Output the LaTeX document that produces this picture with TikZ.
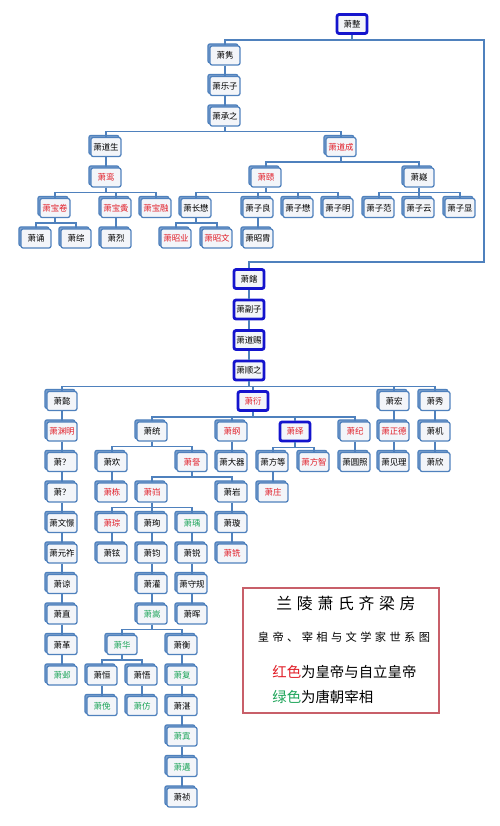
\documentclass[tikz,border=0pt]{standalone}
\usepackage{fontspec}
\usepackage{tikz}
\usetikzlibrary{shadows}
\newfontfamily\cjk{Noto Sans CJK SC}
\newfontfamily\cjkwide[LetterSpace=30]{Noto Sans CJK SC}
\definecolor{boxblue}{RGB}{79,129,189}
\definecolor{boxfill}{RGB}{243,245,249}
\definecolor{hlblue}{RGB}{20,20,205}
\definecolor{empred}{RGB}{225,30,40}
\definecolor{csgreen}{RGB}{30,165,90}
\definecolor{legred}{RGB}{200,95,105}

\begin{document}
\begin{tikzpicture}[x=0.02cm, y=-0.02cm,
  plain/.style={fill=boxfill, rounded corners=1.2pt,
    minimum width=0.6cm, minimum height=0.38cm, inner sep=1pt,
    font=\cjk\fontsize{4.8}{5}\selectfont},
  person/.style={plain, draw=boxblue, line width=0.7pt,
    copy shadow={shadow xshift=-1.2pt, shadow yshift=1.2pt, draw=boxblue, fill=boxblue!75}},
  emp/.style={person, text=empred},
  cs/.style={person, text=csgreen},
  main/.style={plain, draw=hlblue, line width=1.6pt},
  link/.style={draw=boxblue, line width=0.9pt}]
\fill[white] (0,0) rectangle (500,826);
\useasboundingbox (0,0) rectangle (500,826);

% Qi line
\node[main] (zheng) at (352,24) {萧整};
\node[person] (jun) at (225,55.5) {萧隽};
\node[person] (lezi) at (225,86) {萧乐子};
\node[person] (chengzhi) at (225,116.5) {萧承之};
\node[person] (daosheng) at (106,147) {萧道生};
\node[emp] (daocheng) at (341,147) {萧道成};
\node[emp] (luan) at (106,177.5) {萧鸾};
\node[emp] (ze) at (266,177.5) {萧赜};
\node[person] (yi) at (419,177.5) {萧嶷};
\node[emp] (baojuan) at (55,208) {萧宝卷};
\node[emp] (baoyin) at (116,208) {萧宝夤};
\node[emp] (baorong) at (156,208) {萧宝融};
\node[person] (changmao) at (196,208) {萧长懋};
\node[person] (ziliang) at (258,208) {萧子良};
\node[person] (zimao) at (298,208) {萧子懋};
\node[person] (ziming) at (338,208) {萧子明};
\node[person] (zifan) at (379,208) {萧子范};
\node[person] (ziyun) at (419,208) {萧子云};
\node[person] (zixian) at (460,208) {萧子显};
\node[person] (song) at (36,238.5) {萧诵};
\node[person] (zong) at (76,238.5) {萧综};
\node[person] (lie) at (116,238.5) {萧烈};
\node[emp] (zhaoye) at (176,238.5) {萧昭业};
\node[emp] (zhaowen) at (217,238.5) {萧昭文};
\node[person] (zhaozhou) at (258,238.5) {萧昭胄};

% Liang line
\coordinate (loop) at (484,262);
\node[main] (xia) at (249,279) {萧鎋};
\node[main] (fuzi) at (249,309.5) {萧副子};
\node[main] (daoci) at (249,340) {萧道赐};
\node[main] (shunzhi) at (249,370.5) {萧顺之};
\node[person] (yi2) at (62,401) {萧懿};
\node[main, text=empred] (yan) at (253,401) {萧衍};
\node[person] (hong) at (394,401) {萧宏};
\node[person] (xiu) at (435,401) {萧秀};

\node[emp] (yuanming) at (62,431.5) {萧渊明};
\node[person] (qa) at (62,462) {萧？};
\node[person] (qb) at (62,492.5) {萧？};
\node[person] (wenjing) at (62,523) {萧文憬};
\node[person] (yuanzuo) at (62,553.5) {萧元祚};
\node[person] (liang) at (62,584) {萧谅};
\node[person] (zhi2) at (62,614.5) {萧直};
\node[person] (ge) at (62,645) {萧革};
\node[cs] (ye) at (62,675.5) {萧邺};

\node[person] (tong) at (152,431.5) {萧统};
\node[emp] (gang) at (232,431.5) {萧纲};
\node[main, text=empred] (yi3) at (295,431.5) {萧绎};
\node[emp] (ji) at (355,431.5) {萧纪};
\node[emp] (zhengde) at (394,431.5) {萧正德};
\node[person] (jiji) at (435,431.5) {萧机};

\node[person] (huan) at (112,462) {萧欢};
\node[emp] (cha) at (192,462) {萧詧};
\node[person] (daqi) at (232,462) {萧大器};
\node[person] (fangdeng) at (273,462) {萧方等};
\node[emp] (fangzhi) at (314,462) {萧方智};
\node[person] (yuanzhao) at (355,462) {萧圆照};
\node[person] (jianli) at (394,462) {萧见理};
\node[person] (xin) at (435,462) {萧欣};

\node[emp] (dong) at (112,492.5) {萧栋};
\node[emp] (kui) at (152,492.5) {萧岿};
\node[person] (yan2) at (232,492.5) {萧岩};
\node[emp] (zhuang) at (273,492.5) {萧庄};

\node[emp] (cong) at (112,523) {萧琮};
\node[person] (xun) at (152,523) {萧珣};
\node[cs] (yu) at (192,523) {萧瑀};
\node[person] (xuan) at (232,523) {萧璇};

\node[person] (xuan2) at (112,553.5) {萧铉};
\node[person] (jun2) at (152,553.5) {萧钧};
\node[person] (rui) at (192,553.5) {萧锐};
\node[emp] (xian) at (232,553.5) {萧铣};

\node[person] (guan) at (152,584) {萧灌};
\node[person] (shougui) at (192,584) {萧守规};
\node[cs] (song2) at (152,614.5) {萧嵩};
\node[person] (hui) at (192,614.5) {萧晖};

\node[cs] (hua) at (122,645) {萧华};
\node[person] (heng) at (182,645) {萧衡};
\node[person] (heng2) at (102,675.5) {萧恒};
\node[person] (wu) at (142,675.5) {萧悟};
\node[cs] (fu) at (182,675.5) {萧复};
\node[cs] (mian) at (102,706) {萧俛};
\node[cs] (fang) at (142,706) {萧仿};
\node[person] (zhan) at (182,706) {萧湛};
\node[cs] (zhi) at (182,736.5) {萧寘};
\node[cs] (gou) at (182,767) {萧遘};
\node[person] (zhen) at (182,797.5) {萧祯};

% Links
\draw[link] (zheng.south) -- ++(0,5) -| (loop) -| (xia.north);
\foreach \p/\c in {zheng/jun, jun/lezi, lezi/chengzhi, chengzhi/daosheng, chengzhi/daocheng,
    daosheng/luan, luan/baojuan, luan/baoyin, luan/baorong, baojuan/song, baojuan/zong,
    baoyin/lie, daocheng/ze, daocheng/yi, ze/changmao, ze/ziliang, ze/zimao, ze/ziming,
    changmao/zhaoye, changmao/zhaowen, ziliang/zhaozhou, yi/zifan, yi/ziyun, yi/zixian,
    xia/fuzi, fuzi/daoci, daoci/shunzhi, shunzhi/yi2, shunzhi/yan, shunzhi/hong, shunzhi/xiu,
    yi2/yuanming, yuanming/qa, qa/qb, qb/wenjing, wenjing/yuanzuo, yuanzuo/liang,
    liang/zhi2, zhi2/ge, ge/ye,
    yan/tong, yan/gang, yan/yi3, yan/ji, tong/huan, tong/cha, gang/daqi, yi3/fangdeng,
    yi3/fangzhi, ji/yuanzhao, hong/zhengde, zhengde/jianli, xiu/jiji, jiji/xin,
    huan/dong, cha/kui, cha/yan2, fangdeng/zhuang, kui/cong, kui/xun, kui/yu, yan2/xuan,
    cong/xuan2, xun/jun2, yu/rui, xuan/xian, jun2/guan, rui/shougui, guan/song2,
    shougui/hui, song2/hua, song2/heng, hua/heng2, hua/wu, heng/fu, heng2/mian, wu/fang,
    fu/zhan, zhan/zhi, zhi/gou, gou/zhen}
  \draw[link] (\p.south) -- ++(0,5) -| (\c.north);

% Legend
\draw[legred, line width=1pt] (243,588) rectangle (439,713);
\node (title) at (346,603) {\cjkwide\fontsize{9}{10}\selectfont 兰陵萧氏齐梁房};
\node (subtitle) at (344,637) {\cjkwide\fontsize{6.4}{7}\selectfont 皇帝、宰相与文学家世系图};
\node[anchor=west, inner sep=0pt] (redkey) at (272,672)
  {\cjk\fontsize{8.2}{9}\selectfont\textcolor{empred}{红色}为皇帝与自立皇帝};
\node[anchor=west, inner sep=0pt] (greenkey) at (272,697)
  {\cjk\fontsize{8.2}{9}\selectfont\textcolor{csgreen}{绿色}为唐朝宰相};
\end{tikzpicture}
\end{document}
